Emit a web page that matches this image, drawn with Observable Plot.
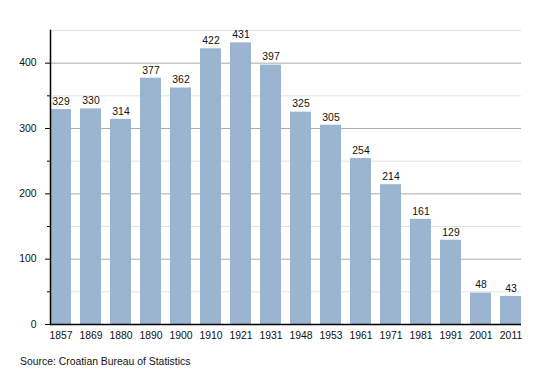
<!DOCTYPE html>
<html>
<head>
<meta charset="utf-8">
<script src="https://cdn.jsdelivr.net/npm/d3@7"></script>
<script src="https://cdn.jsdelivr.net/npm/@observablehq/plot@0.6"></script>
<style>
  html, body { margin: 0; padding: 0; background: #fff; }
  #wrap { position: relative; width: 550px; height: 373px; font-family: "Liberation Sans", Arial, Helvetica, sans-serif; }
  #caption { position: absolute; left: 20px; top: 356px; font-size: 10.4px; color: #111; }
</style>
</head>
<body>
<div id="wrap">
  <div id="chart"></div>
  <div id="caption">Source: Croatian Bureau of Statistics</div>
</div>
<script>
const years = ["1857","1869","1880","1890","1900","1910","1921","1931","1948","1953","1961","1971","1981","1991","2001","2011"];
const population = [329,330,314,377,362,422,431,397,325,305,254,214,161,129,48,43];
const majorTicks = [0,100,200,300,400];
const minorTicks = [50,150,250,350,450];

const data = years.map((y, i) => ({year: y, value: population[i]}));

const chart = Plot.plot({
  width: 550,
  height: 373,
  marginLeft: 50,
  marginRight: 29,
  marginTop: 30,
  marginBottom: 49,
  style: { fontFamily: "Liberation Sans, Arial, Helvetica, sans-serif", fontSize: "10.4px", color: "#111", background: "#fff" },
  x: { domain: years, paddingInner: 0.31, paddingOuter: 0, label: null },
  y: { domain: [0, 450], label: null },
  marks: [
    Plot.ruleY(minorTicks, { stroke: "#e2e2e2", strokeWidth: 1 }),
    Plot.ruleY(majorTicks.slice(1), { stroke: "#aaaaaa", strokeWidth: 1 }),
    Plot.barY(data, { x: "year", y: "value", fill: "#9bb4cf" }),
    Plot.text(data, { x: "year", y: "value", text: d => String(d.value), dy: -8, fontSize: 10.4, fill: "#111" }),
    Plot.axisY({ ticks: majorTicks, tickSize: 5, tickPadding: 9, label: null, stroke: "#000" }),
    Plot.axisY({ ticks: minorTicks.slice(0, 4), tickSize: 3, tickFormat: () => "", label: null, stroke: "#000" }),
    Plot.axisX({ tickSize: 0, tickPadding: 7, label: null }),
    Plot.frame({ anchor: "left", stroke: "#000", strokeWidth: 1.5 }),
    Plot.ruleY([0], { stroke: "#000", strokeWidth: 1.5 })
  ]
});
document.getElementById("chart").appendChild(chart);
</script>
</body>
</html>
